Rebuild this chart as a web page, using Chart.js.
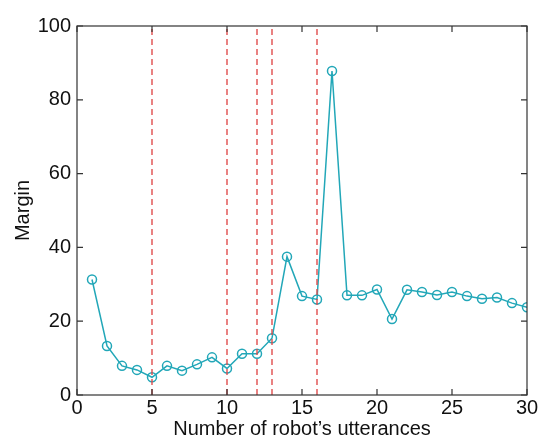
<!DOCTYPE html>
<html>
<head>
<meta charset="utf-8">
<script src="https://cdn.jsdelivr.net/npm/chart.js@4"></script>
<style>
  html, body { margin: 0; padding: 0; background: #fff; }
  canvas { display: block; }
</style>
</head>
<body>
<canvas id="marginChart" width="543" height="441"></canvas>
<script>
// utterance index and margin values
const utterances = [1, 2, 3, 4, 5, 6, 7, 8, 9, 10, 11, 12, 13, 14, 15,
                    16, 17, 18, 19, 20, 21, 22, 23, 24, 25, 26, 27, 28, 29, 30];
const margins = [31.3, 13.3, 7.9, 6.8, 4.8, 7.9, 6.6, 8.3, 10.2, 7.2, 11.2, 11.2, 15.4, 37.5, 26.8,
                 25.9, 87.8, 27.0, 27.0, 28.6, 20.6, 28.5, 27.9, 27.1, 27.9, 26.8, 26.1, 26.4, 24.9, 23.8];
// red dashed markers
const markerXs = [5, 10, 12, 13, 16];
const xTicks = [0, 5, 10, 15, 20, 25, 30];
const yTicks = [0, 20, 40, 60, 80, 100];

const lineColor = '#22a7b8';
const dashColor = 'rgba(222, 70, 70, 0.85)';
const fontFamily = '"Liberation Sans", Arial, Helvetica, sans-serif';

const datasets = [];
markerXs.forEach(function(mx) {
    datasets.push({
        data: [{ x: mx, y: 0 }, { x: mx, y: 100 }],
        borderColor: dashColor,
        borderWidth: 1.6,
        borderDash: [6, 4],
        pointRadius: 0,
        fill: false
    });
});
datasets.push({
    data: utterances.map(function(u, i) { return { x: u, y: margins[i] }; }),
    borderColor: lineColor,
    backgroundColor: 'rgba(0,0,0,0)',
    borderWidth: 1.5,
    pointRadius: 4.5,
    pointBorderWidth: 1.5,
    pointBorderColor: lineColor,
    pointBackgroundColor: 'rgba(0,0,0,0)',
    tension: 0,
    fill: false
});

// box frame + inward ticks on all four sides
const frameTicks = {
    id: 'frameTicks',
    afterDatasetsDraw(chart) {
        const ctx = chart.ctx;
        const a = chart.chartArea;
        const xs = chart.scales.x, ys = chart.scales.y;
        const len = 6;
        ctx.save();
        ctx.strokeStyle = '#333';
        ctx.lineWidth = 1.2;
        ctx.strokeRect(a.left, a.top, a.right - a.left, a.bottom - a.top);
        ctx.beginPath();
        xTicks.forEach(function(v) {
            const px = xs.getPixelForValue(v);
            ctx.moveTo(px, a.bottom); ctx.lineTo(px, a.bottom - len);
            ctx.moveTo(px, a.top); ctx.lineTo(px, a.top + len);
        });
        yTicks.forEach(function(v) {
            const py = ys.getPixelForValue(v);
            ctx.moveTo(a.left, py); ctx.lineTo(a.left + len, py);
            ctx.moveTo(a.right, py); ctx.lineTo(a.right - len, py);
        });
        ctx.stroke();
        ctx.restore();
    }
};

new Chart(document.getElementById('marginChart').getContext('2d'), {
    type: 'line',
    data: { datasets: datasets },
    options: {
        responsive: false,
        animation: false,
        devicePixelRatio: 1,
        layout: { padding: { top: 26, right: 16, left: 0, bottom: 0 } },
        plugins: { legend: { display: false }, tooltip: { enabled: false } },
        scales: {
            x: {
                type: 'linear',
                min: 0, max: 30,
                afterBuildTicks: function(s) { s.ticks = xTicks.map(function(v) { return { value: v }; }); },
                afterFit: function(s) { s.height = 46; },
                grid: { display: false, drawTicks: false },
                border: { display: false },
                ticks: { color: '#111', padding: 1, font: { family: fontFamily, size: 20 } },
                title: {
                    display: true,
                    text: 'Number of robot\u2019s utterances',
                    color: '#111',
                    padding: { top: 0, bottom: 0 },
                    font: { family: fontFamily, size: 20 }
                }
            },
            y: {
                min: 0, max: 100,
                afterBuildTicks: function(s) { s.ticks = yTicks.map(function(v) { return { value: v }; }); },
                afterFit: function(s) { s.width = 77; },
                grid: { display: false, drawTicks: false },
                border: { display: false },
                ticks: { color: '#111', padding: 6, font: { family: fontFamily, size: 20 } },
                title: {
                    display: true,
                    text: 'Margin',
                    color: '#111',
                    padding: { top: 11, bottom: 0 },
                    font: { family: fontFamily, size: 20 }
                }
            }
        }
    },
    plugins: [frameTicks]
});
</script>
</body>
</html>
